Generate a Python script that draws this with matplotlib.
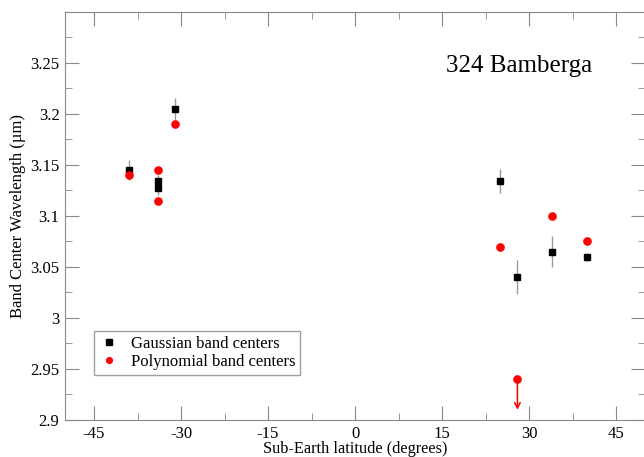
import matplotlib.pyplot as plt
from matplotlib.ticker import MultipleLocator

plt.rcParams["font.family"] = ["Liberation Serif", "DejaVu Serif"]

# Gaussian band centers
gauss_lat = [-39, -34, -34, -31, 25, 28, 34, 40]
gauss_wl = [3.145, 3.134, 3.127, 3.205, 3.134, 3.040, 3.065, 3.060]
gauss_err = [0.010, 0.006, 0.006, 0.011, 0.012, 0.017, 0.015, 0.004]

# Polynomial band centers
poly_lat = [-39, -34, -34, -31, 25, 34, 40]
poly_wl = [3.140, 3.145, 3.115, 3.190, 3.070, 3.100, 3.075]

# upper limit
limit_lat = [28]
limit_wl = [2.940]
limit_len = 0.030

fig = plt.figure(figsize=(6.44, 4.57), dpi=100)
ax = fig.add_axes([0.101, 0.081, 0.9006, 0.893])

ax.errorbar(gauss_lat, gauss_wl, yerr=gauss_err, fmt="none", ecolor="#999999",
            elinewidth=1, capsize=0, zorder=2)
ax.plot(gauss_lat, gauss_wl, "s", color="black", ms=4.8, ls="none", zorder=3,
        label="Gaussian band centers")
ax.plot(poly_lat, poly_wl, "o", color="red", ms=5.2, ls="none", zorder=3,
        label="Polynomial band centers")
ax.plot(limit_lat, limit_wl, "o", color="red", ms=5.2, zorder=3)
for x, y in zip(limit_lat, limit_wl):
    ax.annotate("", xy=(x, y - limit_len), xytext=(x, y),
                arrowprops=dict(arrowstyle="->", color="red", lw=1.1,
                                shrinkA=0, shrinkB=0))

ax.set_xlim(-50, 50)
ax.set_ylim(2.9, 3.3)
ax.xaxis.set_minor_locator(MultipleLocator(7.5))
ax.yaxis.set_minor_locator(MultipleLocator(0.025))
ax.set_xticks([-45, -30, -15, 0, 15, 30, 45])
ax.set_xticklabels(["-45", "-30", "-15", "0", "15", "30", "45"])
ax.set_yticks([2.9, 2.95, 3.0, 3.05, 3.1, 3.15, 3.2, 3.25])
ax.set_yticklabels(["2.9", "2.95", "3", "3.05", "3.1", "3.15", "3.2", "3.25"])

ax.tick_params(which="both", direction="in", top=True, right=True,
               color="#888888", labelsize=12)
ax.tick_params(axis="y", pad=4)
ax.tick_params(axis="x", pad=4)
ax.tick_params(which="major", length=10)
ax.tick_params(which="minor", length=5)
for s in ax.spines.values():
    s.set_color("#888888")

ax.set_xlabel("Sub-Earth latitude (degrees)", fontsize=11.7, labelpad=-0.5)
ax.set_ylabel("Band Center Wavelength (\u00b5m)", fontsize=12, labelpad=3)

ax.text(28.2, 3.241, "324 Bamberga", fontsize=18, ha="center", va="baseline")

leg = ax.legend(loc="lower left", bbox_to_anchor=(0.05, 0.11), fontsize=12,
                frameon=True, fancybox=False, edgecolor="#888888",
                borderaxespad=0, handletextpad=0.7, borderpad=0.3,
                labelspacing=0.15, handlelength=1.2, markerscale=0.8)
leg.get_frame().set_linewidth(1)

fig.savefig("out.png", dpi=100)
